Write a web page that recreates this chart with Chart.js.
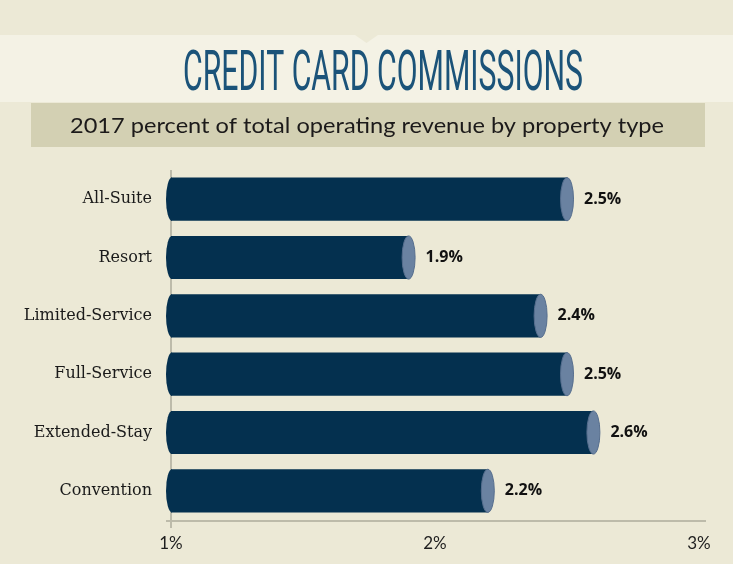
<!DOCTYPE html>
<html>
<head>
<meta charset="utf-8">
<script src="https://cdn.jsdelivr.net/npm/chart.js@4"></script>
<style>
  html, body { margin: 0; padding: 0; background: #ECE9D6; }
  canvas { display: block; }
</style>
</head>
<body>
<canvas id="myChart" width="733" height="564"></canvas>
<script>
var categories = ['All-Suite', 'Resort', 'Limited-Service', 'Full-Service', 'Extended-Stay', 'Convention'];
var values = [2.5, 1.9, 2.4, 2.5, 2.6, 2.2];
var xTicks = [1, 2, 3];
var title = 'CREDIT CARD COMMISSIONS';
var subtitle = '2017 percent of total operating revenue by property type';

var bg = '#ECE9D6';
var barColor = '#04304F';
var capColor = '#6A82A1';

// bands, title, cylinder ends, value labels
var decor = {
    id: 'decor',
    beforeDraw: function(chart) {
        var c = chart.ctx;
        c.save();
        c.fillStyle = bg;
        c.fillRect(0, 0, chart.width, chart.height);
        c.fillStyle = '#F4F2E5';
        c.fillRect(0, 35, chart.width, 67);
        c.fillStyle = bg;
        c.beginPath();
        c.moveTo(355, 35);
        c.lineTo(378, 35);
        c.lineTo(366.5, 43);
        c.closePath();
        c.fill();
        c.fillStyle = '#D3D0B3';
        c.fillRect(31, 103, 674, 44);

        c.fillStyle = '#1B5379';
        c.font = '400 56px Roboto';
        c.textAlign = 'center';
        c.textBaseline = 'alphabetic';
        var w = c.measureText(title).width;
        c.translate(383, 90);
        c.scale(400 / w, 1);
        c.fillText(title, 0, 0);
        c.restore();

        c.save();
        c.fillStyle = '#1C1A1A';
        c.font = '400 22px Lato';
        c.textAlign = 'center';
        var w2 = c.measureText(subtitle).width;
        c.translate(367, 133);
        c.scale(594 / w2, 1);
        c.fillText(subtitle, 0, 0);
        c.restore();
    },
    beforeDatasetsDraw: function(chart) {
        var c = chart.ctx, a = chart.chartArea;
        c.save();
        c.strokeStyle = '#BDBBAA';
        c.lineWidth = 2;
        c.beginPath();
        c.moveTo(a.left - 5, a.bottom + 1);
        c.lineTo(a.right + 7, a.bottom + 1);
        c.stroke();
        c.restore();
    },
    afterDatasetsDraw: function(chart) {
        var c = chart.ctx;
        var meta = chart.getDatasetMeta(0);
        var x0 = chart.scales.x.getPixelForValue(xTicks[0]);
        c.save();
        meta.data.forEach(function(bar, i) {
            var p = bar.getProps(['x', 'y', 'height'], true);
            var h = p.height / 2;
            c.fillStyle = barColor;
            c.beginPath();
            c.ellipse(x0 + 1, p.y, 6, h, 0, Math.PI / 2, Math.PI * 3 / 2);
            c.closePath();
            c.fill();
            c.fillStyle = capColor;
            c.strokeStyle = '#566E8E';
            c.lineWidth = 1;
            c.beginPath();
            c.ellipse(p.x, p.y, 6.5, h, 0, 0, Math.PI * 2);
            c.fill();
            c.stroke();
            c.fillStyle = '#111';
            c.font = 'bold 16px "Open Sans"';
            c.textAlign = 'left';
            c.textBaseline = 'middle';
            c.fillText(values[i].toFixed(1) + '%', p.x + 17, p.y);
        });
        c.restore();
    }
};

var ctx = document.getElementById('myChart');
var myChart = new Chart(ctx, {
    type: 'bar',
    data: {
        labels: categories,
        datasets: [{
            data: values,
            backgroundColor: barColor,
            borderWidth: 0,
            categoryPercentage: 1,
            barPercentage: 0.74
        }]
    },
    options: {
        indexAxis: 'y',
        responsive: false,
        animation: false,
        layout: {
            padding: { top: 170, right: 34, left: 0, bottom: 0 }
        },
        plugins: {
            legend: { display: false },
            tooltip: { enabled: false }
        },
        scales: {
            x: {
                min: xTicks[0],
                max: xTicks[xTicks.length - 1],
                afterBuildTicks: function(s) {
                    s.ticks = xTicks.map(function(v) { return { value: v }; });
                },
                afterFit: function(s) { s.height = 44; },
                border: { display: false },
                grid: {
                    drawOnChartArea: true,
                    tickLength: 8,
                    lineWidth: 2,
                    color: function(c) { return c.index === 0 ? '#BDBBAA' : 'rgba(0,0,0,0)'; }
                },
                ticks: {
                    padding: 5,
                    color: '#1E1E1E',
                    font: { family: 'Lato', size: 17, weight: '400' },
                    callback: function(v) { return v + '%'; }
                }
            },
            y: {
                afterFit: function(s) { s.width = 171; },
                border: { display: false },
                grid: { display: false },
                ticks: {
                    padding: 11,
                    color: '#1A1A1A',
                    font: { family: 'DejaVu Serif', size: 16 }
                }
            }
        }
    },
    plugins: [decor]
});
</script>
</body>
</html>
